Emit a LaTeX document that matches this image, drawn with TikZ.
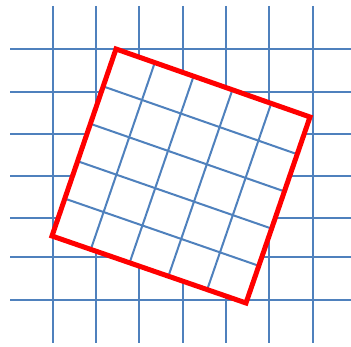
\documentclass[tikz,border=0pt]{standalone}
\usetikzlibrary{calc}

\definecolor{gridblue}{RGB}{79,129,189}

\tikzset{gridline/.style={draw=gridblue,line width=2pt}}
\tikzset{frameline/.style={draw=red,line width=5pt}}

\begin{document}
\begin{tikzpicture}[x=1pt,y=-1pt]
  \useasboundingbox (0,0) rectangle (351,347);
  % straight grid
  \foreach \x in {53,96,139,183,226,269,313}
    \draw[gridline] (\x,6) -- (\x,343);
  \foreach \y in {49,92,134,176,218,257,300}
    \draw[gridline] (10,\y) -- (351,\y);
  % corners of the turned square
  \coordinate (top) at (116,49);
  \coordinate (right) at (310,117);
  \coordinate (bottom) at (246,303);
  \coordinate (left) at (52,236);
  \fill[white] (top) -- (right) -- (bottom) -- (left) -- cycle;
  % turned grid
  \foreach \t in {0.2,0.4,0.6,0.8} {
    \draw[gridline] ($(left)!\t!(top)$) -- ($(bottom)!\t!(right)$);
    \draw[gridline] ($(top)!\t!(right)$) -- ($(left)!\t!(bottom)$);
  }
  \draw[frameline] (top) -- (right) -- (bottom) -- (left) -- cycle;
\end{tikzpicture}
\end{document}
